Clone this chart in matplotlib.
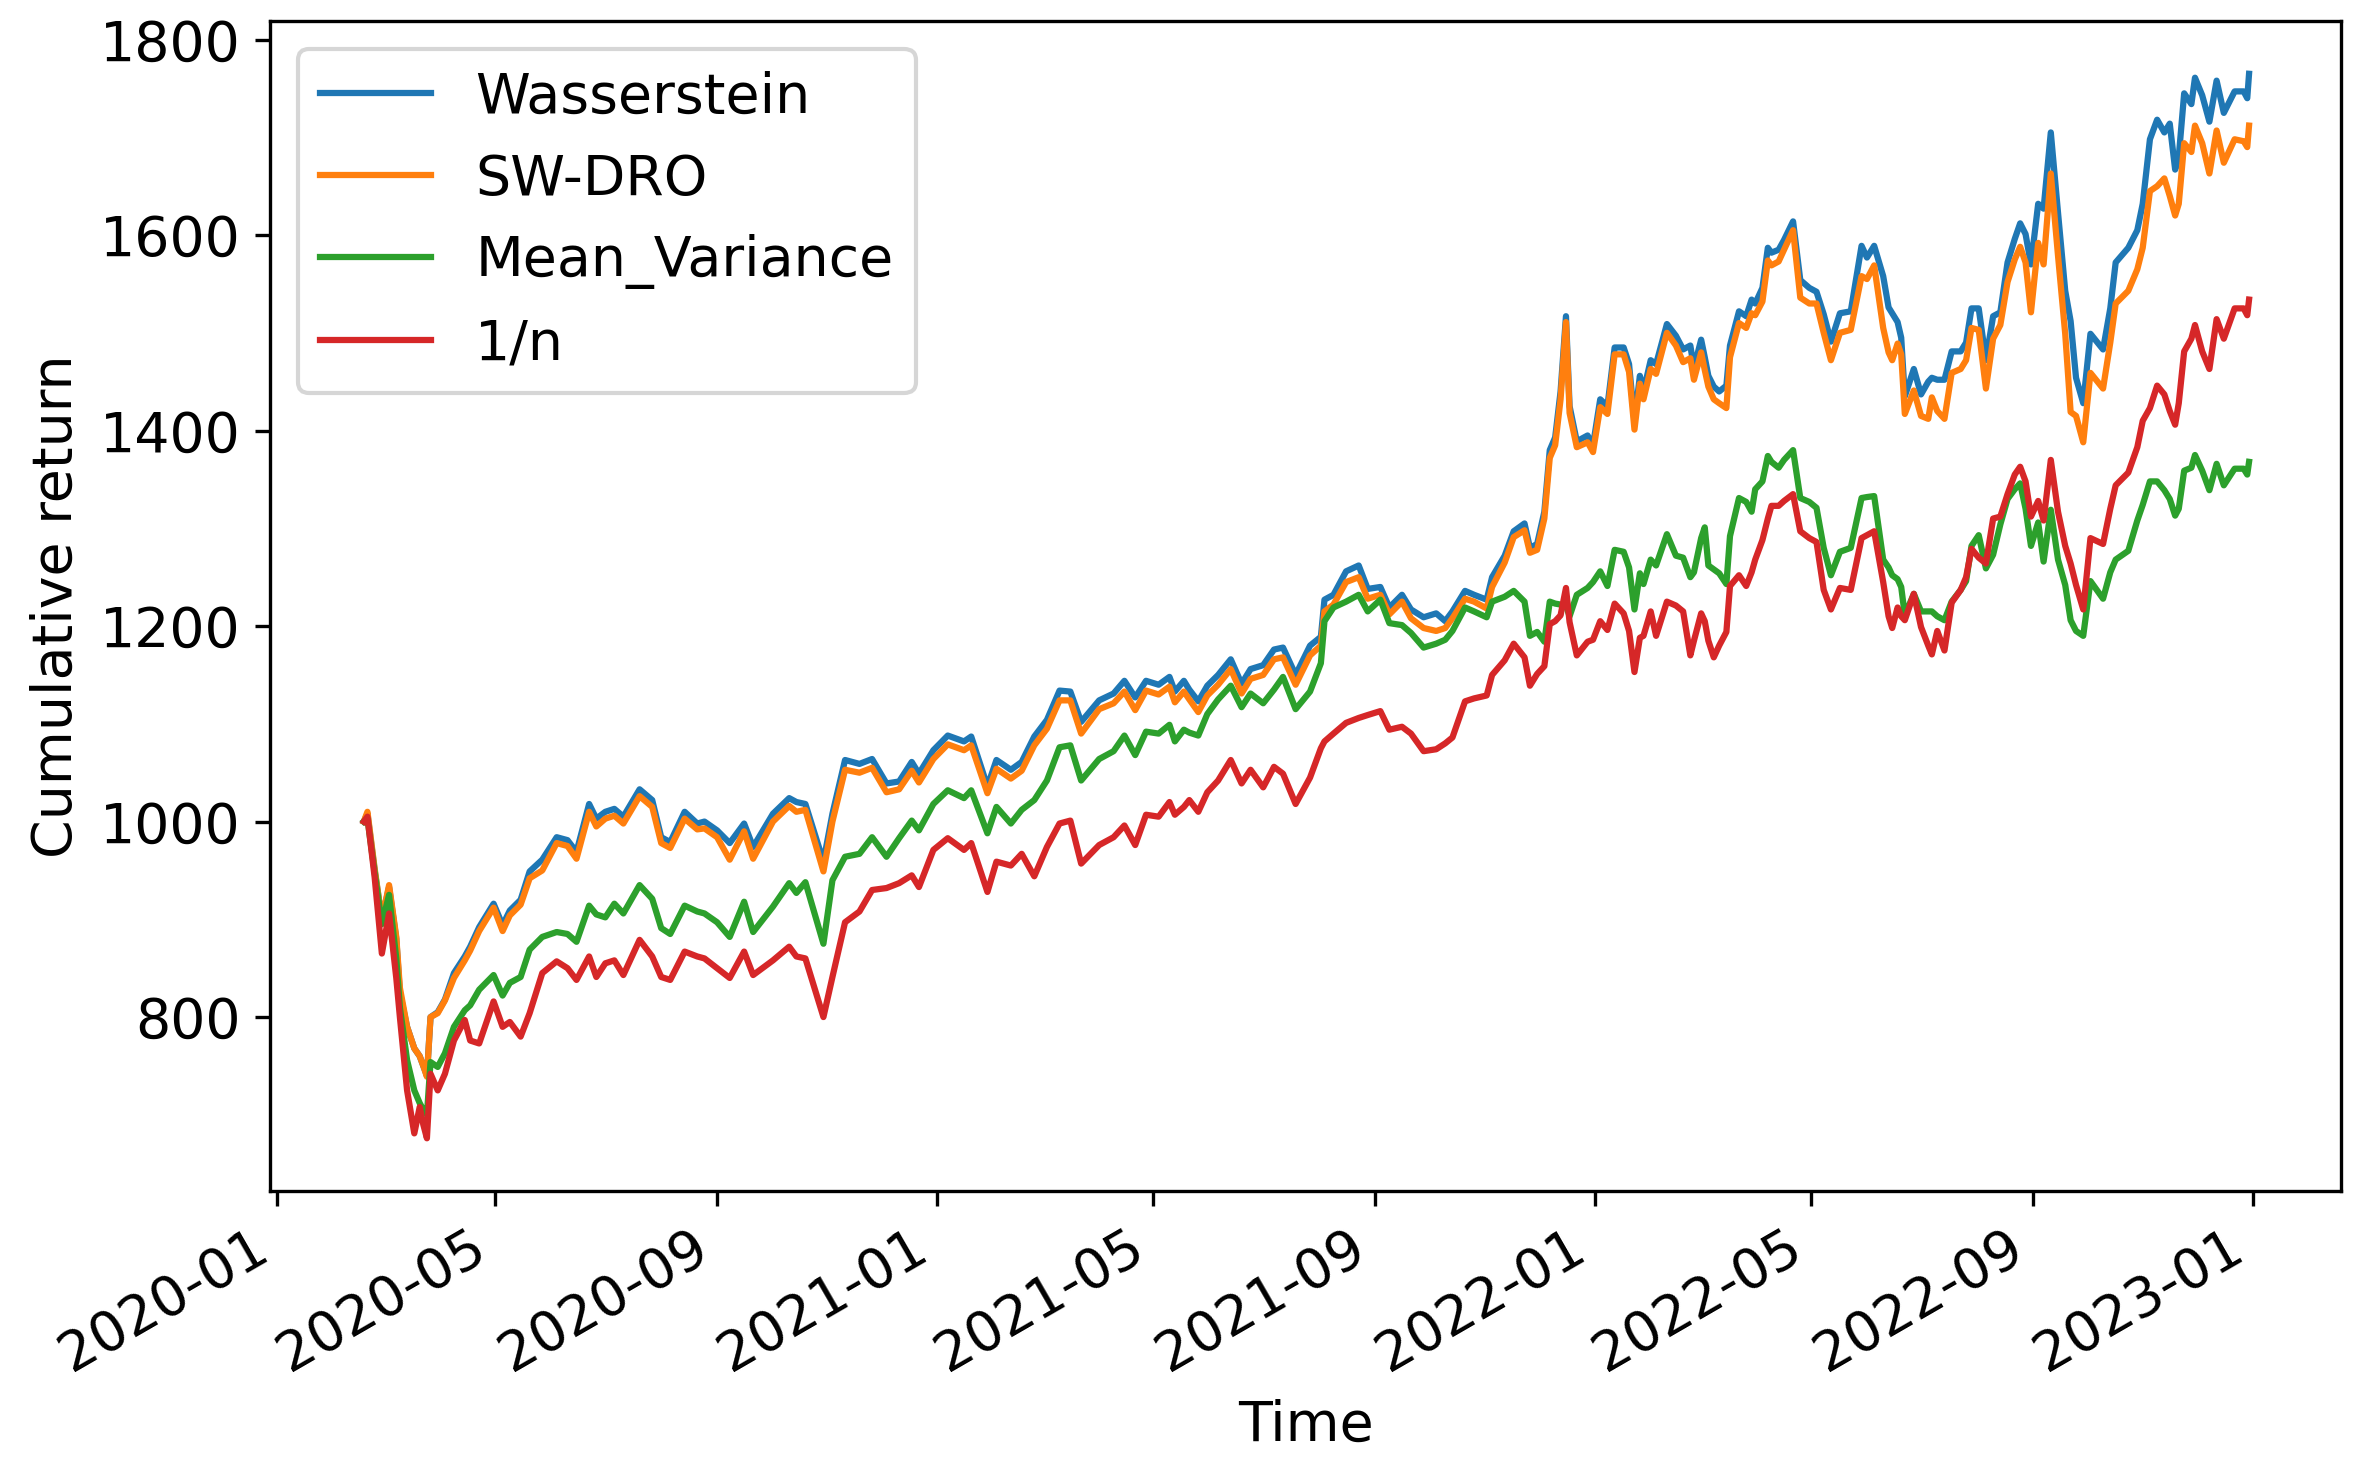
import matplotlib
matplotlib.use("Agg")
import matplotlib.pyplot as plt
import pandas as pd

plt.rcParams['font.size'] = 13.3

# dates (trading period 2020-02-18 .. 2022-12-30)
dates = [
    "2020-02-18", "2020-02-20", "2020-02-24", "2020-02-28", "2020-03-03", "2020-03-07",
    "2020-03-09", "2020-03-13", "2020-03-17", "2020-03-20", "2020-03-22", "2020-03-24",
    "2020-03-26", "2020-03-30", "2020-04-03", "2020-04-08", "2020-04-14", "2020-04-17",
    "2020-04-22", "2020-04-30", "2020-05-05", "2020-05-09", "2020-05-15", "2020-05-20",
    "2020-05-27", "2020-06-04", "2020-06-10", "2020-06-15", "2020-06-22", "2020-06-26",
    "2020-07-01", "2020-07-06", "2020-07-11", "2020-07-20", "2020-07-27", "2020-08-01",
    "2020-08-06", "2020-08-14", "2020-08-21", "2020-08-25", "2020-09-01", "2020-09-08",
    "2020-09-16", "2020-09-21", "2020-10-02", "2020-10-11", "2020-10-15", "2020-10-20",
    "2020-10-30", "2020-11-04", "2020-11-11", "2020-11-19", "2020-11-26", "2020-12-04",
    "2020-12-11", "2020-12-18", "2020-12-22", "2020-12-30",
    "2021-01-07", "2021-01-16", "2021-01-20", "2021-01-29", "2021-02-03", "2021-02-11",
    "2021-02-17", "2021-02-24", "2021-03-03", "2021-03-10", "2021-03-16", "2021-03-22",
    "2021-04-01", "2021-04-09", "2021-04-15", "2021-04-21", "2021-04-27", "2021-05-04",
    "2021-05-10", "2021-05-13", "2021-05-18", "2021-05-21", "2021-05-26", "2021-05-31",
    "2021-06-06", "2021-06-13", "2021-06-19", "2021-06-24", "2021-07-01", "2021-07-07",
    "2021-07-12", "2021-07-19", "2021-07-27", "2021-08-02", "2021-08-04", "2021-08-09",
    "2021-08-16", "2021-08-23", "2021-08-28", "2021-09-04", "2021-09-09", "2021-09-16",
    "2021-09-21", "2021-09-28", "2021-10-05", "2021-10-10", "2021-10-14", "2021-10-21",
    "2021-10-26", "2021-11-02", "2021-11-05", "2021-11-12", "2021-11-17", "2021-11-23",
    "2021-11-26", "2021-11-30", "2021-12-04", "2021-12-07", "2021-12-10", "2021-12-13",
    "2021-12-16", "2021-12-18", "2021-12-22", "2021-12-28", "2021-12-31",
    "2022-01-04", "2022-01-08", "2022-01-12", "2022-01-17", "2022-01-20", "2022-01-23",
    "2022-01-26", "2022-01-28", "2022-02-01", "2022-02-04", "2022-02-10", "2022-02-15",
    "2022-02-19", "2022-02-23", "2022-02-25", "2022-03-01", "2022-03-03", "2022-03-05",
    "2022-03-08", "2022-03-11", "2022-03-15", "2022-03-17", "2022-03-22", "2022-03-26",
    "2022-03-29", "2022-03-31", "2022-04-04", "2022-04-07", "2022-04-09", "2022-04-13",
    "2022-04-16", "2022-04-21", "2022-04-25", "2022-04-30", "2022-05-04", "2022-05-08",
    "2022-05-12", "2022-05-17", "2022-05-23", "2022-05-29", "2022-06-01", "2022-06-05",
    "2022-06-10", "2022-06-13", "2022-06-15", "2022-06-18", "2022-06-20", "2022-06-22",
    "2022-06-27", "2022-07-01", "2022-07-05", "2022-07-07", "2022-07-10", "2022-07-14",
    "2022-07-18", "2022-07-23", "2022-07-26", "2022-07-29", "2022-08-02", "2022-08-06",
    "2022-08-10", "2022-08-14", "2022-08-18", "2022-08-22", "2022-08-25", "2022-08-28",
    "2022-08-31", "2022-09-04", "2022-09-07", "2022-09-11", "2022-09-15", "2022-09-19",
    "2022-09-22", "2022-09-25", "2022-09-29", "2022-10-03", "2022-10-10", "2022-10-14",
    "2022-10-17", "2022-10-24", "2022-10-29", "2022-11-01", "2022-11-05", "2022-11-09",
    "2022-11-13", "2022-11-16", "2022-11-19", "2022-11-21", "2022-11-24", "2022-11-28",
    "2022-11-30", "2022-12-04", "2022-12-08", "2022-12-12", "2022-12-16", "2022-12-22",
    "2022-12-27", "2022-12-29", "2022-12-30",
]

wasserstein = [
    1000, 1008, 950, 900, 933, 880, 825, 790, 768, 760, 750, 740,
    800, 805, 818, 845, 862, 872, 892, 916, 894, 909, 920, 949,
    961, 984, 981, 969, 1018, 1003, 1010, 1013, 1005, 1033, 1022, 984,
    979, 1010, 998, 1000, 991, 978, 998, 974, 1008, 1024, 1020, 1018,
    959, 1008, 1063, 1059, 1064, 1039, 1041, 1061, 1049, 1073,
    1088, 1082, 1087, 1036, 1063, 1053, 1061, 1087, 1104, 1134, 1133, 1102,
    1124, 1131, 1144, 1127, 1144, 1140, 1148, 1133, 1144, 1135, 1123, 1139,
    1150, 1166, 1141, 1156, 1160, 1176, 1178, 1150, 1180, 1189, 1227, 1232,
    1256, 1262, 1238, 1240, 1219, 1232, 1217, 1209, 1213, 1205, 1215, 1236,
    1232, 1227, 1250, 1272, 1297, 1305, 1280, 1284, 1317, 1380, 1393, 1440,
    1517, 1425, 1389, 1395, 1385,
    1432, 1425, 1485, 1485, 1468, 1409, 1456, 1440, 1472, 1468, 1509, 1497,
    1483, 1487, 1464, 1493, 1475, 1456, 1445, 1440, 1446, 1487, 1522, 1517,
    1534, 1530, 1546, 1587, 1582, 1585, 1595, 1614, 1554, 1546, 1542, 1519,
    1491, 1520, 1522, 1589, 1577, 1589, 1558, 1526, 1520, 1511, 1495, 1435,
    1463, 1437, 1450, 1454, 1452, 1452, 1481, 1481, 1490, 1525, 1525, 1472,
    1517, 1521, 1572, 1596, 1612, 1601, 1570, 1632, 1627, 1705, 1623, 1543,
    1512, 1454, 1428, 1499, 1483, 1525, 1572, 1587, 1605, 1632, 1698, 1718,
    1705, 1714, 1667, 1680, 1745, 1734, 1761, 1743, 1716, 1758, 1725, 1747,
    1747, 1740, 1765,
]

sw_dro = [
    1000, 1010, 952, 899, 935, 882, 830, 790, 768, 760, 750, 739,
    800, 804, 817, 840, 858, 868, 888, 912, 888, 904, 915, 942,
    950, 978, 975, 962, 1010, 995, 1003, 1006, 998, 1026, 1015, 978,
    973, 1003, 992, 993, 984, 961, 990, 962, 1000, 1016, 1010, 1012,
    949, 1000, 1053, 1050, 1055, 1030, 1033, 1052, 1040, 1064,
    1079, 1073, 1078, 1029, 1054, 1044, 1052, 1078, 1095, 1124, 1124, 1090,
    1115, 1121, 1133, 1114, 1134, 1130, 1138, 1122, 1133, 1125, 1112, 1129,
    1140, 1156, 1131, 1146, 1150, 1166, 1168, 1140, 1170, 1180, 1215, 1222,
    1245, 1250, 1228, 1232, 1212, 1225, 1208, 1198, 1195, 1198, 1208, 1228,
    1225, 1218, 1240, 1265, 1291, 1298, 1275, 1278, 1310, 1372, 1385, 1432,
    1511, 1418, 1383, 1388, 1378,
    1424, 1417, 1478, 1478, 1460, 1401, 1448, 1432, 1463, 1458, 1500, 1487,
    1470, 1474, 1452, 1480, 1462, 1445, 1432, 1428, 1423, 1475, 1510, 1505,
    1520, 1518, 1532, 1574, 1569, 1573, 1585, 1605, 1536, 1530, 1530, 1500,
    1472, 1500, 1503, 1558, 1555, 1569, 1505, 1480, 1472, 1489, 1478, 1417,
    1441, 1415, 1412, 1434, 1420, 1412, 1459, 1463, 1472, 1505, 1503, 1443,
    1494, 1508, 1552, 1575, 1588, 1572, 1521, 1592, 1570, 1663, 1579, 1499,
    1419, 1415, 1388, 1459, 1443, 1490, 1530, 1543, 1565, 1587, 1645, 1650,
    1658, 1640, 1620, 1632, 1694, 1685, 1712, 1694, 1663, 1707, 1674, 1698,
    1696, 1690, 1712,
]

mean_variance = [
    1000, 1003, 948, 895, 925, 860, 810, 756, 725, 712, 705, 700,
    754, 749, 763, 790, 807, 812, 828, 843, 822, 835, 841, 869,
    882, 887, 885, 877, 914, 905, 902, 916, 906, 935, 921, 891,
    885, 914, 908, 906, 897, 882, 918, 887, 913, 937, 927, 938,
    875, 940, 964, 967, 984, 964, 983, 1001, 991, 1018,
    1032, 1024, 1032, 988, 1015, 998, 1012, 1022, 1042, 1076, 1078, 1042,
    1064, 1072, 1088, 1068, 1092, 1090, 1099, 1082, 1094, 1091, 1088, 1110,
    1125, 1139, 1117, 1131, 1121, 1135, 1148, 1115, 1133, 1162, 1205, 1219,
    1225, 1232, 1215, 1227, 1203, 1201, 1193, 1178, 1182, 1186, 1195, 1219,
    1215, 1209, 1225, 1230, 1236, 1225, 1190, 1194, 1184, 1225, 1223, 1222,
    1221, 1210, 1232, 1239, 1245,
    1256, 1241, 1278, 1276, 1260, 1217, 1254, 1243, 1268, 1262, 1294, 1272,
    1270, 1250, 1255, 1290, 1301, 1262, 1258, 1254, 1243, 1292, 1331, 1327,
    1317, 1340, 1348, 1374, 1368, 1362, 1370, 1380, 1331, 1327, 1321, 1280,
    1252, 1276, 1280, 1331, 1332, 1333, 1268, 1260, 1252, 1248, 1240, 1211,
    1233, 1215, 1215, 1215, 1210, 1206, 1225, 1237, 1246, 1282, 1293, 1259,
    1273, 1304, 1330, 1340, 1346, 1320, 1282, 1306, 1266, 1319, 1268, 1242,
    1206, 1195, 1190, 1246, 1228, 1255, 1268, 1277, 1308, 1324, 1348, 1348,
    1339, 1330, 1313, 1320, 1359, 1362, 1375, 1359, 1339, 1366, 1344, 1361,
    1361, 1355, 1368,
]

one_over_n = [
    1000, 1005, 943, 865, 906, 840, 800, 725, 681, 708, 690, 676,
    742, 725, 742, 776, 797, 776, 773, 816, 790, 795, 780, 804,
    845, 857, 850, 838, 862, 841, 855, 858, 843, 879, 862, 841,
    838, 867, 862, 860, 850, 840, 867, 843, 858, 872, 862, 860,
    800, 841, 897, 908, 930, 932, 937, 945, 933, 971,
    983, 971, 978, 928, 959, 955, 967, 944, 974, 998, 1001, 957,
    976, 984, 996, 976, 1007, 1005, 1020, 1007, 1015, 1022, 1010, 1030,
    1042, 1063, 1039, 1053, 1035, 1056, 1049, 1018, 1045, 1075, 1082, 1090,
    1101, 1106, 1109, 1113, 1094, 1097, 1090, 1072, 1074, 1080, 1086, 1123,
    1126, 1129, 1150, 1165, 1182, 1168, 1139, 1151, 1159, 1202, 1205, 1211,
    1239, 1204, 1170, 1184, 1186,
    1205, 1196, 1223, 1213, 1195, 1153, 1188, 1190, 1215, 1190, 1225, 1221,
    1215, 1170, 1185, 1213, 1205, 1185, 1168, 1180, 1194, 1241, 1252, 1241,
    1255, 1268, 1288, 1310, 1323, 1323, 1328, 1335, 1297, 1290, 1286, 1237,
    1217, 1239, 1237, 1290, 1293, 1297, 1245, 1210, 1198, 1219, 1210, 1206,
    1233, 1199, 1180, 1171, 1195, 1175, 1224, 1237, 1250, 1279, 1270, 1264,
    1310, 1312, 1335, 1355, 1363, 1348, 1312, 1328, 1308, 1370, 1317, 1282,
    1264, 1242, 1217, 1290, 1284, 1320, 1344, 1357, 1383, 1410, 1423, 1446,
    1437, 1420, 1406, 1428, 1481, 1494, 1508, 1481, 1463, 1514, 1494, 1525,
    1525, 1518, 1534,
]

series = [
    ("Wasserstein", wasserstein),
    ("SW-DRO", sw_dro),
    ("Mean_Variance", mean_variance),
    ("1/n", one_over_n),
]

x = pd.to_datetime(dates)

fig = plt.figure(figsize=(2357 / 300, 1469 / 300), dpi=300)
ax = fig.add_axes([0.1146, 0.1892, 0.8786, 0.7965])

for name, vals in series:
    ax.plot(x, vals, label=name)

ax.set_xlim(pd.Timestamp("2019-12-28"), pd.Timestamp("2023-02-19"))
ax.set_ylim(622, 1819)
ax.set_xlabel("Time")
ax.set_ylabel("Cumulative return")
ax.legend(loc="upper left")
fig.autofmt_xdate()
# autofmt_xdate moves the bottom edge, put the axes back
ax.set_position([0.1146, 0.1892, 0.8786, 0.7965])

fig.savefig("out.png", dpi=300)
